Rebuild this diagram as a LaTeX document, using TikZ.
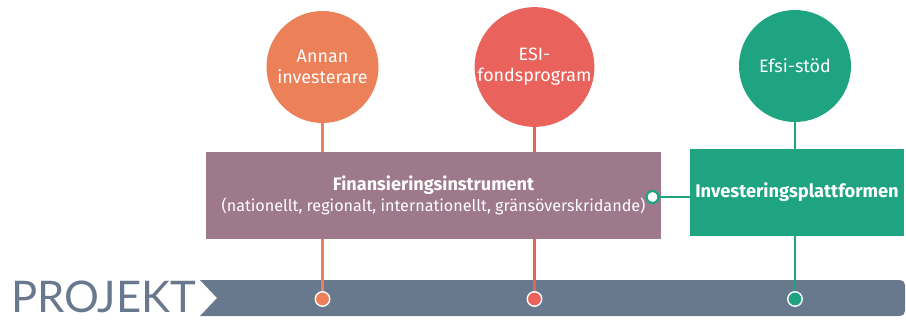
\documentclass[tikz,border=0pt]{standalone}
\usepackage{fontspec}
\setmainfont{Fira Sans}
\newfontfamily\projfont{Lato}
\usepackage{xcolor}
\usetikzlibrary{positioning}
\definecolor{annanor}{RGB}{236,128,88}
\definecolor{esired}{RGB}{233,98,92}
\definecolor{efsigreen}{RGB}{31,164,130}
\definecolor{finmauve}{RGB}{157,121,139}
\definecolor{projgray}{RGB}{104,120,141}

\begin{document}
\begin{tikzpicture}[
  srcc/.style={circle, minimum size=2.24cm, inner sep=0pt, text=white,
               font=\fontsize{10.2}{12}\selectfont, align=center},
  instb/.style={minimum height=1.74cm, inner sep=0pt, text=white, align=center},
  vline/.style={line width=1.3pt},
  bard/.style={circle, draw=white, line width=0.8pt, minimum size=0.29cm, inner sep=0pt},
]
\useasboundingbox (0,0) rectangle (18.12,6.4);

% Project bar with notch
\fill[projgray] (4.0,0.8) -- (18.0,0.8) arc[start angle=90, end angle=0, radius=0.1]
  -- (18.1,0.18) arc[start angle=0, end angle=-90, radius=0.1]
  -- (4.0,0.08) -- (4.34,0.44) -- cycle;
\node[anchor=base west, text=projgray, inner sep=0pt,
      font=\projfont\fontsize{24.8}{26}\selectfont] (proj) at (0.22,0.15) {PROJEKT};

% Sources
\node[srcc, fill=annanor] (annan) at (6.45, 5.06) {Annan\\investerare};
\node[srcc, fill=esired]  (esi)   at (10.69,5.06) {ESI-\\fondsprogram};
\node[srcc, fill=efsigreen] (efsi) at (15.9, 5.08) {Efsi-stöd};

% Points on the project bar
\coordinate (pA) at (6.45, 0.42);
\coordinate (pB) at (10.69,0.42);
\coordinate (pC) at (15.9, 0.42);

% Vertical lines (behind the boxes)
\draw[vline, annanor]   (annan) -- (pA);
\draw[vline, esired]    (esi)   -- (pB);
\draw[vline, efsigreen] (efsi)  -- (pC);

% Instrument boxes
\node[instb, fill=finmauve, minimum width=9.1cm] (fin) at (8.67,2.49)
  {{\fontsize{10.3}{13}\selectfont\bfseries Finansieringsinstrument}\\
   {\fontsize{9.2}{12}\selectfont (nationellt, regionalt, internationellt, gränsöverskridande)}};
\node[instb, fill=efsigreen, minimum width=4.28cm,
      font=\fontsize{10.4}{12}\selectfont\bfseries] (inv) at (15.94,2.55)
  {Investeringsplattformen};

% Link between the boxes
\node[circle, fill=white, draw=efsigreen, line width=1.3pt, minimum size=0.24cm,
      inner sep=0pt] (link) at (13.05,2.46) {};
\draw[vline, efsigreen] (link) -- (inv.west |- link);

% Dots on the bar
\node[bard, fill=annanor]   (dA) at (pA) {};
\node[bard, fill=esired]    (dB) at (pB) {};
\node[bard, fill=efsigreen] (dC) at (pC) {};
\end{tikzpicture}
\end{document}
